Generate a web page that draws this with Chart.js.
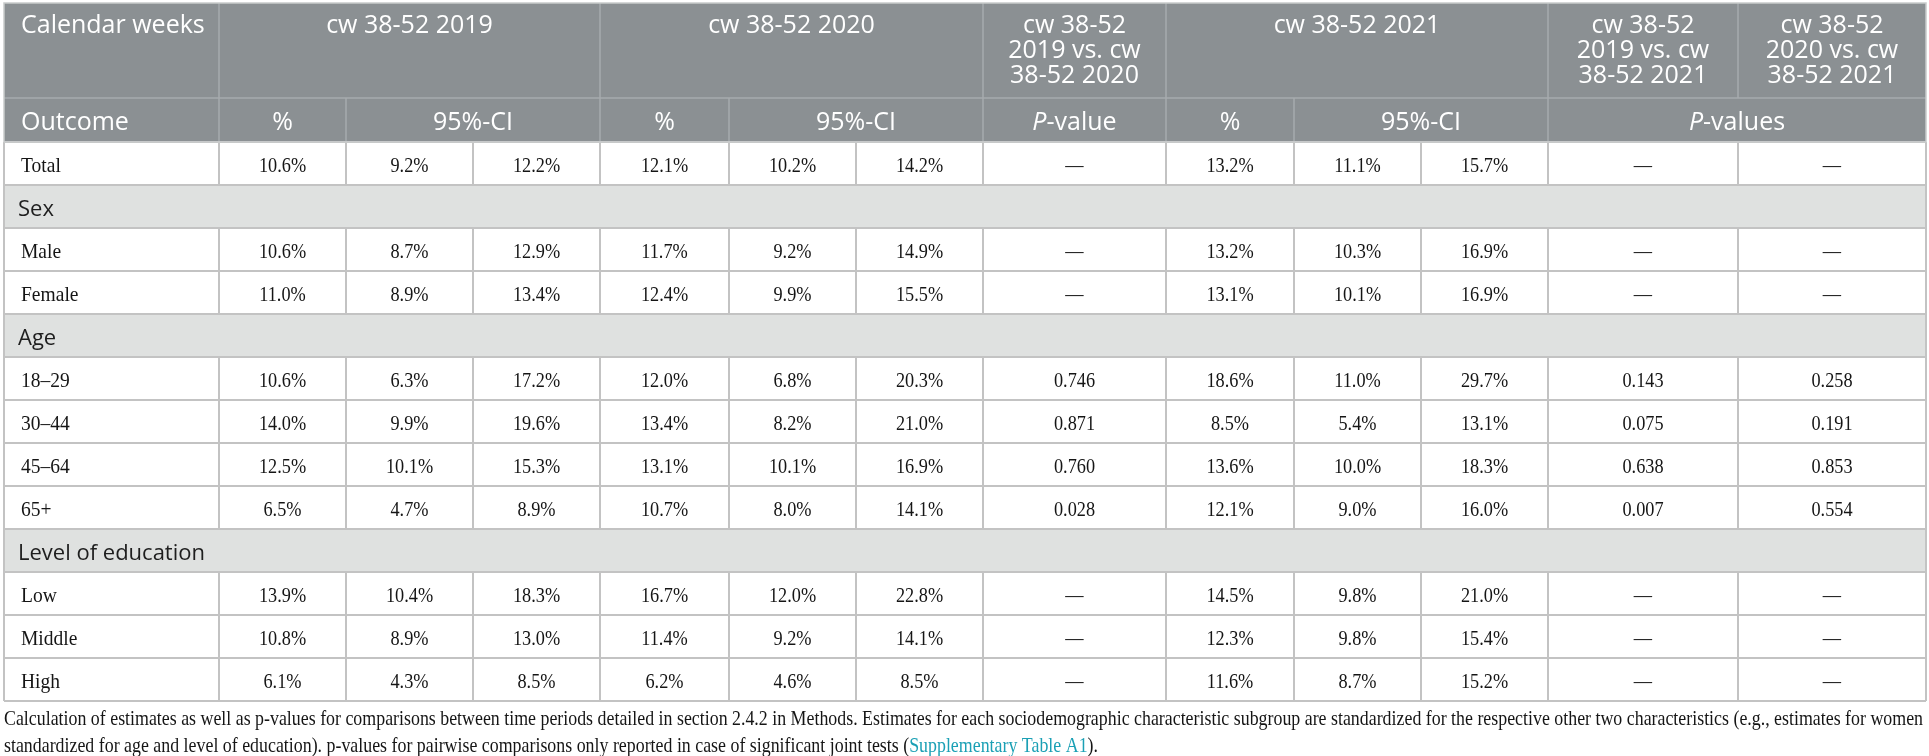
<!DOCTYPE html>
<html>
<head>
<meta charset="utf-8">
<script src="https://cdn.jsdelivr.net/npm/chart.js@4"></script>
<style>
  html,body{margin:0;padding:0;background:#fff;}
  #wrap{position:relative;width:1929px;height:756px;}
</style>
</head>
<body>
<div id="wrap"><canvas id="tableChart"></canvas></div>
<script>
// ============================================================
//  TABLE DATA
// ============================================================
const groupHeads=['Calendar weeks','cw 38-52 2019','cw 38-52 2020',['cw 38-52','2019 vs. cw','38-52 2020'],'cw 38-52 2021',['cw 38-52','2019 vs. cw','38-52 2021'],['cw 38-52','2020 vs. cw','38-52 2021']];
const subHeads=['Outcome','%','95%-CI','%','95%-CI','P-value','%','95%-CI','P-values'];
const rowLabels=['Total','Sex','Male','Female','Age','18–29','30–44','45–64','65+','Level of education','Low','Middle','High'];
const sectionRows=['Sex','Age','Level of education'];

const pct2019=[10.6,null,10.6,11.0,null,10.6,14.0,12.5,6.5,null,13.9,10.8,6.1];
const lo2019 =[9.2,null,8.7,8.9,null,6.3,9.9,10.1,4.7,null,10.4,8.9,4.3];
const hi2019 =[12.2,null,12.9,13.4,null,17.2,19.6,15.3,8.9,null,18.3,13.0,8.5];
const pct2020=[12.1,null,11.7,12.4,null,12.0,13.4,13.1,10.7,null,16.7,11.4,6.2];
const lo2020 =[10.2,null,9.2,9.9,null,6.8,8.2,10.1,8.0,null,12.0,9.2,4.6];
const hi2020 =[14.2,null,14.9,15.5,null,20.3,21.0,16.9,14.1,null,22.8,14.1,8.5];
const p19v20 =[null,null,null,null,null,0.746,0.871,0.760,0.028,null,null,null,null];
const pct2021=[13.2,null,13.2,13.1,null,18.6,8.5,13.6,12.1,null,14.5,12.3,11.6];
const lo2021 =[11.1,null,10.3,10.1,null,11.0,5.4,10.0,9.0,null,9.8,9.8,8.7];
const hi2021 =[15.7,null,16.9,16.9,null,29.7,13.1,18.3,16.0,null,21.0,15.4,15.2];
const p19v21 =[null,null,null,null,null,0.143,0.075,0.638,0.007,null,null,null,null];
const p20v21 =[null,null,null,null,null,0.258,0.191,0.853,0.554,null,null,null,null];

const captionLine1='Calculation of estimates as well as p-values for comparisons between time periods detailed in section 2.4.2 in Methods. Estimates for each sociodemographic characteristic subgroup are standardized for the respective other two characteristics (e.g., estimates for women';
const captionLine2='standardized for age and level of education). p-values for pairwise comparisons only reported in case of significant joint tests (';
const captionLink='Supplementary Table A1';
const captionEnd=').';

// ============================================================
//  LAYOUT (scale units)
// ============================================================
const colEdges=[4,219,346,473,600,729,856,983,1166,1294,1421,1548,1738,1926];
const groupSpans=[[0,1],[1,4],[4,7],[7,8],[8,11],[11,12],[12,13]];
const subSpans=[[0,1],[1,2],[2,4],[4,5],[5,7],[7,8],[8,9],[9,11],[11,13]];
const headTop=3, head1Bottom=98, head2Bottom=142, rowH=43;
const columns=[pct2019,lo2019,hi2019,pct2020,lo2020,hi2020,p19v20,pct2021,lo2021,hi2021,p19v21,p20v21];
const isP=[false,false,false,false,false,false,true,false,false,false,true,true];

const HEAD_BG='#8b9093', HEAD_LINE='#a7abae', SECTION_BG='#dfe1e0', GRID='#c3c3c3', LINK='#1ba0b5';
const SANS='"Open Sans", sans-serif', SERIF='"Liberation Serif", "Times New Roman", serif';
const HEAD_FONT='400 25px '+SANS, HEAD_ITALIC='italic 400 25px '+SANS;

const fmt=(v,p)=>v==null?'—':(p?v.toFixed(3):v.toFixed(1)+'%');

// draws text squeezed horizontally by sx
function squeezeText(ctx,text,x,y,sx,align){
  ctx.save();
  ctx.translate(x,y); ctx.scale(sx,1);
  ctx.textAlign=align; ctx.fillText(text,0,0);
  ctx.restore();
}

const tablePlugin={
  id:'tablePlugin',
  afterDraw(chart){
    const ctx=chart.ctx, xs=chart.scales.x, ys=chart.scales.y;
    const X=v=>xs.getPixelForValue(v), Y=v=>ys.getPixelForValue(v);
    const left=X(colEdges[0]), right=X(colEdges[colEdges.length-1]);
    const nRows=rowLabels.length, bodyBottom=head2Bottom+nRows*rowH;
    ctx.save();
    ctx.textBaseline='alphabetic';

    // header background + inner lines
    ctx.fillStyle=HEAD_BG;
    ctx.fillRect(left,Y(headTop),right-left,Y(head2Bottom)-Y(headTop));
    ctx.strokeStyle=HEAD_LINE; ctx.lineWidth=1.5;
    ctx.beginPath();
    ctx.moveTo(left,Y(head1Bottom)); ctx.lineTo(right,Y(head1Bottom));
    groupSpans.slice(1).forEach(s=>{ctx.moveTo(X(colEdges[s[0]]),Y(headTop));ctx.lineTo(X(colEdges[s[0]]),Y(head1Bottom));});
    subSpans.slice(1).forEach(s=>{ctx.moveTo(X(colEdges[s[0]]),Y(head1Bottom));ctx.lineTo(X(colEdges[s[0]]),Y(head2Bottom));});
    ctx.stroke();

    // header text
    ctx.fillStyle='#ffffff';
    ctx.font=HEAD_FONT;
    groupHeads.forEach((h,i)=>{
      const s=groupSpans[i];
      const lines=Array.isArray(h)?h:[h];
      lines.forEach((ln,k)=>{
        const yb=Y(headTop)+30+k*25;
        if(i===0){ctx.textAlign='left';ctx.fillText(ln,X(colEdges[0])+17,yb);}
        else{ctx.textAlign='center';ctx.fillText(ln,(X(colEdges[s[0]])+X(colEdges[s[1]]))/2,yb);}
      });
    });
    const yb2=(Y(head1Bottom)+Y(head2Bottom))/2+10;
    subHeads.forEach((h,i)=>{
      const s=subSpans[i];
      ctx.font=HEAD_FONT;
      if(i===0){ctx.textAlign='left';ctx.fillText(h,X(colEdges[0])+17,yb2);return;}
      const cx=(X(colEdges[s[0]])+X(colEdges[s[1]]))/2;
      if(h.startsWith('P-')){
        ctx.font=HEAD_ITALIC; const wP=ctx.measureText('P').width;
        ctx.font=HEAD_FONT; const wR=ctx.measureText(h.slice(1)).width;
        const x0=cx-(wP+wR)/2;
        ctx.textAlign='left';
        ctx.font=HEAD_ITALIC; ctx.fillText('P',x0,yb2);
        ctx.font=HEAD_FONT; ctx.fillText(h.slice(1),x0+wP,yb2);
      }else{ctx.textAlign='center';ctx.fillText(h,cx,yb2);}
    });

    // body rows
    rowLabels.forEach((lab,r)=>{
      const top=Y(head2Bottom+r*rowH), bot=Y(head2Bottom+(r+1)*rowH), mid=(top+bot)/2;
      if(sectionRows.includes(lab)){
        ctx.fillStyle=SECTION_BG; ctx.fillRect(left,top,right-left,bot-top);
        ctx.fillStyle='#1e1e1e'; ctx.font='400 22px '+SANS; ctx.textAlign='left';
        ctx.fillText(lab,X(colEdges[0])+14,mid+9);
        return;
      }
      ctx.fillStyle='#151515'; ctx.font='21px '+SERIF;
      squeezeText(ctx,lab,X(colEdges[0])+17,mid+8,0.93,'left');
      columns.forEach((col,c)=>{
        const cx=(X(colEdges[c+1])+X(colEdges[c+2]))/2;
        squeezeText(ctx,fmt(col[r],isP[c]),cx,mid+8,0.87,'center');
      });
    });

    // body grid
    ctx.strokeStyle=GRID; ctx.lineWidth=2;
    ctx.beginPath();
    for(let r=0;r<=nRows;r++){const y=Y(head2Bottom+r*rowH);ctx.moveTo(left,y);ctx.lineTo(right,y);}
    rowLabels.forEach((lab,r)=>{
      const top=Y(head2Bottom+r*rowH), bot=Y(head2Bottom+(r+1)*rowH);
      if(sectionRows.includes(lab)){ctx.moveTo(left,top);ctx.lineTo(left,bot);ctx.moveTo(right,top);ctx.lineTo(right,bot);return;}
      colEdges.forEach(e=>{ctx.moveTo(X(e),top);ctx.lineTo(X(e),bot);});
    });
    ctx.stroke();
    ctx.strokeStyle='#c9cbcc'; ctx.lineWidth=1.5;
    ctx.strokeRect(left,Y(headTop),right-left,Y(head2Bottom)-Y(headTop));

    // caption, squeezed so line 1 spans the table width
    ctx.font='21px '+SERIF;
    const sx=(right-left-3)/ctx.measureText(captionLine1).width;
    ctx.fillStyle='#151515';
    const cy1=Y(bodyBottom)+24, cy2=cy1+27;
    squeezeText(ctx,captionLine1,left,cy1,sx,'left');
    let x=left;
    squeezeText(ctx,captionLine2,x,cy2,sx,'left'); x+=ctx.measureText(captionLine2).width*sx;
    ctx.fillStyle=LINK; squeezeText(ctx,captionLink,x,cy2,sx,'left'); x+=ctx.measureText(captionLink).width*sx;
    ctx.fillStyle='#151515'; squeezeText(ctx,captionEnd,x,cy2,sx,'left');
    ctx.restore();
  }
};

new Chart(document.getElementById('tableChart').getContext('2d'),{
  type:'scatter',
  data:{datasets:[{data:[],pointRadius:0}]},
  options:{
    responsive:true,
    maintainAspectRatio:false,
    animation:false,
    layout:{padding:0},
    plugins:{legend:{display:false},tooltip:{enabled:false}},
    scales:{
      x:{type:'linear',min:0,max:1929,display:false},
      y:{type:'linear',min:0,max:756,reverse:true,display:false}
    }
  },
  plugins:[tablePlugin]
});
</script>
</body>
</html>
